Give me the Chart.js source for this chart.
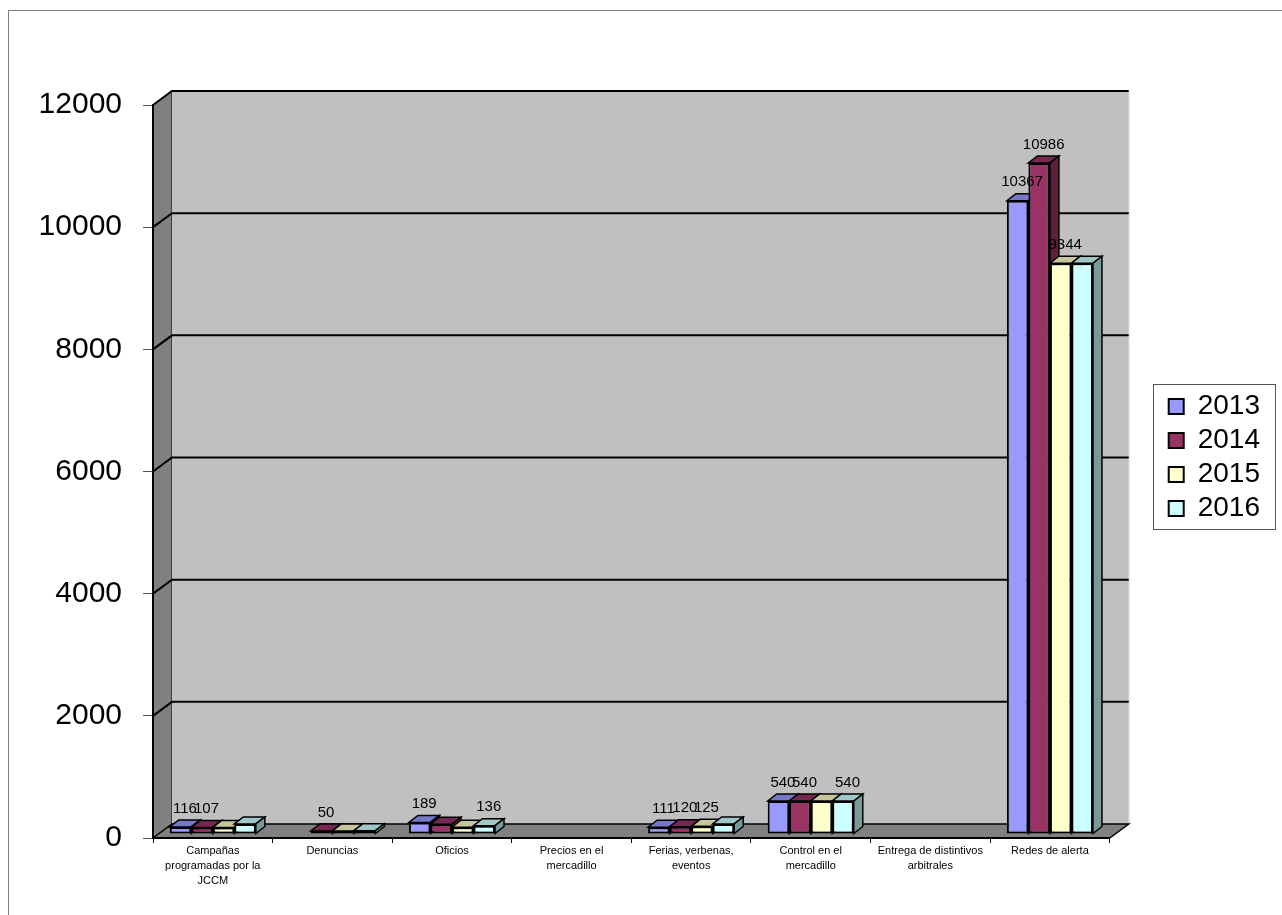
<!DOCTYPE html>
<html>
<head>
<meta charset="utf-8">
<script src="https://cdn.jsdelivr.net/npm/chart.js@4/dist/chart.umd.min.js"></script>
<style>
  html, body { margin: 0; padding: 0; background: #fff; }
  #wrap { width: 1282px; height: 915px; }
</style>
</head>
<body>
<div id="wrap"><canvas id="chart" width="1282" height="915"></canvas></div>
<script>
// ==================== DATA ====================
const categories = [
  ['Campañas', 'programadas por la', 'JCCM'],
  'Denuncias',
  'Oficios',
  ['Precios en el', 'mercadillo'],
  ['Ferias, verbenas,', 'eventos'],
  ['Control en el', 'mercadillo'],
  ['Entrega de distintivos', 'arbitrales'],
  'Redes de alerta'
];
const years = ['2013', '2014', '2015', '2016'];

const values2013 = [116, null, 189, null, 111, 540, null, 10367];
const values2014 = [107, 50, 160, null, 120, 540, null, 10986];
const values2015 = [107, 50, 110, null, 125, 540, null, 9344];
const values2016 = [165, 54, 136, null, 165, 540, null, 9344];

// which values carry a visible label in the original
const shown2013 = [true, false, true, false, true, true, false, true];
const shown2014 = [true, true, false, false, true, true, false, true];
const shown2015 = [false, false, false, false, true, false, false, true];
const shown2016 = [false, false, true, false, false, true, false, false];

const yTicks = { min: 0, max: 12000, step: 2000 };

const seriesValues = [values2013, values2014, values2015, values2016];
const seriesShown = [shown2013, shown2014, shown2015, shown2016];
const seriesColors = ['#9999FF', '#993366', '#FFFFCC', '#CCFFFF'];

const FONT = 'Arial, "Liberation Sans", sans-serif';

// depth of the walls and of the bars (fake 3d)
const WALL_DX = 19, WALL_DY = -14;
const BAR_DX = 9, BAR_DY = -7;
const BAR_LIFT = -4; // bars stand a little behind the front edge of the floor

function shade(hex, f) {
  const n = parseInt(hex.slice(1), 16);
  const r = Math.round(((n >> 16) & 255) * f);
  const g = Math.round(((n >> 8) & 255) * f);
  const b = Math.round((n & 255) * f);
  return `rgb(${r},${g},${b})`;
}

function poly(ctx, pts, fill, stroke, lw) {
  ctx.beginPath();
  ctx.moveTo(pts[0][0], pts[0][1]);
  for (let i = 1; i < pts.length; i++) ctx.lineTo(pts[i][0], pts[i][1]);
  ctx.closePath();
  if (fill) { ctx.fillStyle = fill; ctx.fill(); }
  if (stroke) { ctx.strokeStyle = stroke; ctx.lineWidth = lw || 1; ctx.stroke(); }
}

const scene3d = {
  id: 'scene3d',
  afterLayout(chart) {
    // move the legend a bit away from the plot, centred on the whole canvas
    const lg = chart.legend;
    const w = lg.width;
    lg.left = chart.chartArea.right + 53;
    lg.right = lg.left + w;
    lg.top = 0;
    lg.bottom = chart.height;
    lg.height = chart.height;
  },
  beforeDraw(chart) {
    const { ctx, chartArea: a } = chart;
    const y = chart.scales.y;
    ctx.save();
    ctx.fillStyle = '#fff';
    ctx.fillRect(0, 0, chart.width, chart.height);
    ctx.strokeStyle = '#808080';
    ctx.lineWidth = 1;
    ctx.strokeRect(8.5, 10.5, chart.width + 20, chart.height + 20);

    // left wall
    poly(ctx, [[a.left, a.top], [a.left + WALL_DX, a.top + WALL_DY],
      [a.left + WALL_DX, a.bottom + WALL_DY], [a.left, a.bottom]], '#808080', '#000', 1);
    // back wall
    ctx.fillStyle = '#C0C0C0';
    ctx.fillRect(a.left + WALL_DX, a.top + WALL_DY, a.width, a.height);
    ctx.strokeStyle = '#dcdcdc';
    ctx.lineWidth = 1;
    ctx.beginPath();
    ctx.moveTo(a.right + WALL_DX + 0.5, a.top + WALL_DY);
    ctx.lineTo(a.right + WALL_DX + 0.5, a.bottom + WALL_DY);
    ctx.stroke();
    // floor
    poly(ctx, [[a.left, a.bottom], [a.left + WALL_DX, a.bottom + WALL_DY],
      [a.right + WALL_DX, a.bottom + WALL_DY], [a.right, a.bottom]], '#808080', '#000', 1.5);

    // gridlines on the walls
    ctx.strokeStyle = '#000';
    ctx.lineWidth = 2;
    y.ticks.forEach(t => {
      if (t.value === 0) return;
      const py = y.getPixelForValue(t.value);
      ctx.beginPath();
      ctx.moveTo(a.left, py);
      ctx.lineTo(a.left + WALL_DX, py + WALL_DY);
      ctx.lineTo(a.right + WALL_DX, py + WALL_DY);
      ctx.stroke();
    });
    ctx.restore();
  },
  beforeDatasetsDraw(chart) {
    // top and side faces first, so the front faces of the neighbour bars cover them
    const { ctx } = chart;
    ctx.save();
    ctx.translate(0, BAR_LIFT);
    seriesValues.forEach((vals, i) => {
      const col = seriesColors[i];
      chart.getDatasetMeta(i).data.forEach((el, j) => {
        if (vals[j] == null) return;
        const { x, y, base: b, width } = el.getProps(['x', 'y', 'base', 'width'], true);
        const l = x - width / 2, r = x + width / 2;
        poly(ctx, [[l, y], [l + BAR_DX, y + BAR_DY], [r + BAR_DX, y + BAR_DY], [r, y]], shade(col, 0.78), '#000', 1.5);
        poly(ctx, [[r, y], [r + BAR_DX, y + BAR_DY], [r + BAR_DX, b + BAR_DY], [r, b]], shade(col, 0.6), '#000', 1.5);
      });
    });
    ctx.restore();
  },
  beforeDatasetDraw(chart) {
    chart.ctx.save();
    chart.ctx.translate(0, BAR_LIFT);
  },
  afterDatasetDraw(chart) {
    chart.ctx.restore();
  },
  afterDatasetsDraw(chart) {
    const { ctx } = chart;
    ctx.save();
    ctx.fillStyle = '#000';
    ctx.font = '15px ' + FONT;
    ctx.textAlign = 'center';
    ctx.textBaseline = 'bottom';
    seriesValues.forEach((vals, i) => {
      chart.getDatasetMeta(i).data.forEach((el, j) => {
        if (!seriesShown[i][j] || vals[j] == null) return;
        ctx.fillText(String(vals[j]), el.x + BAR_DX / 2, el.y + BAR_LIFT + BAR_DY - 4);
      });
    });
    ctx.restore();
  },
  afterDraw(chart) {
    // frame round the legend
    const boxes = chart.legend.legendHitBoxes;
    if (!boxes || !boxes.length) return;
    const minX = Math.min(...boxes.map(h => h.left));
    const maxX = Math.max(...boxes.map(h => h.left + h.width));
    const minY = Math.min(...boxes.map(h => h.top));
    const maxY = Math.max(...boxes.map(h => h.top + h.height));
    const { ctx } = chart;
    ctx.save();
    ctx.strokeStyle = '#555';
    ctx.lineWidth = 1;
    ctx.strokeRect(Math.round(minX - 16) + 0.5, Math.round(minY - 9) + 0.5,
      Math.round(maxX - minX + 31), Math.round(maxY - minY + 15));
    ctx.restore();
  }
};

new Chart(document.getElementById('chart'), {
  type: 'bar',
  data: {
    labels: categories,
    datasets: years.map((yr, i) => ({
      label: yr,
      data: seriesValues[i],
      backgroundColor: seriesColors[i],
      borderColor: '#000',
      borderWidth: 2,
      borderSkipped: false,
      barPercentage: 1,
      categoryPercentage: 0.72
    }))
  },
  options: {
    responsive: false,
    animation: false,
    devicePixelRatio: 1,
    layout: { padding: { left: 0, top: 105, right: 65, bottom: 0 } },
    plugins: {
      legend: {
        position: 'right',
        labels: {
          font: { family: FONT, size: 28 },
          color: '#000',
          boxWidth: 15,
          boxHeight: 15,
          padding: 6
        }
      },
      tooltip: { enabled: false }
    },
    scales: {
      x: {
        grid: { drawOnChartArea: false, tickLength: 5, color: '#000', offset: true },
        border: { color: '#000', width: 2 },
        ticks: {
          font: { family: FONT, size: 11, lineHeight: 1.35 },
          color: '#000',
          maxRotation: 0,
          autoSkip: false,
          padding: 1
        },
        afterFit(s) { s.height = 77; }
      },
      y: {
        min: yTicks.min,
        max: yTicks.max,
        ticks: {
          stepSize: yTicks.step,
          font: { family: FONT, size: 30 },
          color: '#000',
          padding: 21,
          callback: v => String(v)
        },
        grid: { drawOnChartArea: false, tickLength: 10, color: '#555' },
        border: { color: '#000', width: 2 },
        afterFit(s) { s.width = 153; }
      }
    }
  },
  plugins: [scene3d]
});
</script>
</body>
</html>
